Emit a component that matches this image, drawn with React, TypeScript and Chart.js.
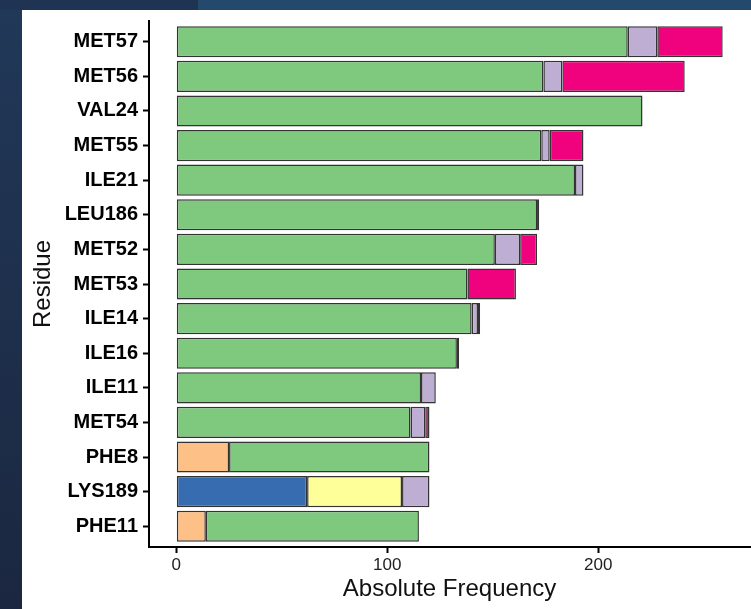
import React, { useEffect, useRef } from "react";
import { Chart, registerables } from "chart.js";

Chart.register(...registerables);

// Residues, top to bottom
const residues = [
  "MET57", "MET56", "VAL24", "MET55", "ILE21", "LEU186", "MET52", "MET53",
  "ILE14", "ILE16", "ILE11", "MET54", "PHE8", "LYS189", "PHE11",
];

// Interaction counts per residue, one array per interaction type (stack order)
const orangeVals = [0, 0, 0, 0, 0, 0, 0, 0, 0, 0, 0, 0, 25, 0, 14];
const blueVals = [0, 0, 0, 0, 0, 0, 0, 0, 0, 0, 0, 0, 0, 62, 0];
const yellowVals = [0, 0, 0, 0, 0, 0, 0, 0, 0, 0, 0, 0, 0, 45, 0];
const greenVals = [214, 174, 221, 173, 189, 171, 151, 138, 140, 133, 116, 111, 95, 0, 101];
const lavenderVals = [14, 9, 0, 4, 4, 0, 12, 0, 3, 0, 7, 7, 0, 13, 0];
const pinkVals = [31, 58, 0, 16, 0, 1, 8, 23, 1, 1, 0, 2, 0, 0, 0];

const xTicks = [0, 100, 200];

const series = [
  { vals: orangeVals, color: "#FDC086" },
  { vals: blueVals, color: "#386CB0" },
  { vals: yellowVals, color: "#FFFF99" },
  { vals: greenVals, color: "#7FC97F" },
  { vals: lavenderVals, color: "#BEAED4" },
  { vals: pinkVals, color: "#F0027F" },
];

const FONT = "'Liberation Sans', Arial, sans-serif";

export default function App() {
  const canvasRef = useRef<HTMLCanvasElement | null>(null);

  useEffect(() => {
    const canvas = canvasRef.current;
    if (!canvas) return;
    const chart = new Chart(canvas, {
      type: "bar",
      data: {
        datasets: series.map((s) => ({
          data: s.vals.map((v, i) => ({ x: v === 0 ? null : v, y: i + 1 })),
          backgroundColor: s.color,
          borderColor: "#333333",
          borderWidth: 1.5,
          borderSkipped: false,
          categoryPercentage: 1,
          barPercentage: 0.9,
        })),
      },
      options: {
        indexAxis: "y",
        responsive: false,
        animation: false,
        layout: { padding: { top: 21, right: 1, left: 0, bottom: 0 } },
        plugins: { legend: { display: false }, tooltip: { enabled: false } },
        scales: {
          x: {
            type: "linear",
            stacked: true,
            min: -12.95,
            max: 271.95,
            afterBuildTicks: (axis: any) => {
              axis.ticks = xTicks.map((v) => ({ value: v }));
            },
            afterFit: (axis: any) => {
              axis.height = 62;
            },
            grid: {
              display: true,
              offset: false,
              drawOnChartArea: false,
              drawTicks: true,
              tickLength: 6,
              tickWidth: 2,
              tickColor: "#000",
            },
            border: { display: true, color: "#000", width: 2 },
            ticks: {
              color: "#222",
              font: { family: FONT, size: 17 },
              padding: 2,
              maxRotation: 0,
            },
            title: {
              display: true,
              text: "Absolute Frequency",
              color: "#111",
              font: { family: FONT, size: 24 },
              padding: { top: 0, bottom: 5 },
            },
          },
          y: {
            type: "linear",
            stacked: true,
            reverse: true,
            offset: false,
            min: 0.4,
            max: 15.6,
            afterBuildTicks: (axis: any) => {
              axis.ticks = residues.map((_, i) => ({ value: i + 1 }));
            },
            afterFit: (axis: any) => {
              axis.width = 149;
            },
            grid: {
              display: true,
              offset: false,
              drawOnChartArea: false,
              drawTicks: true,
              tickLength: 6,
              tickWidth: 2,
              tickColor: "#000",
            },
            border: { display: true, color: "#000", width: 2 },
            ticks: {
              autoSkip: false,
              color: "#000",
              font: { family: FONT, size: 20, weight: "bold" },
              padding: 5,
              callback: (value: any) => residues[Math.round(Number(value)) - 1] ?? "",
            },
            title: {
              display: true,
              text: "Residue",
              color: "#111",
              font: { family: FONT, size: 24 },
              padding: { top: 29, bottom: 0 },
            },
          },
        },
      },
    } as any);
    return () => chart.destroy();
  }, []);

  return (
    <div
      style={{
        position: "fixed",
        left: 0,
        top: 0,
        width: 751,
        height: 609,
        background: "#ffffff",
        overflow: "hidden",
      }}
    >
      <div style={{ position: "absolute", left: 0, top: 0, width: 198, height: 10, background: "#1f3352" }} />
      <div style={{ position: "absolute", left: 198, top: 0, width: 553, height: 10, background: "#25496d" }} />
      <div
        style={{
          position: "absolute",
          left: 0,
          top: 10,
          width: 22,
          height: 599,
          background: "linear-gradient(#213858, #1b2740)",
        }}
      />
      <canvas
        ref={canvasRef}
        width={751}
        height={609}
        style={{ position: "absolute", left: 0, top: 0, width: 751, height: 609 }}
      />
    </div>
  );
}
